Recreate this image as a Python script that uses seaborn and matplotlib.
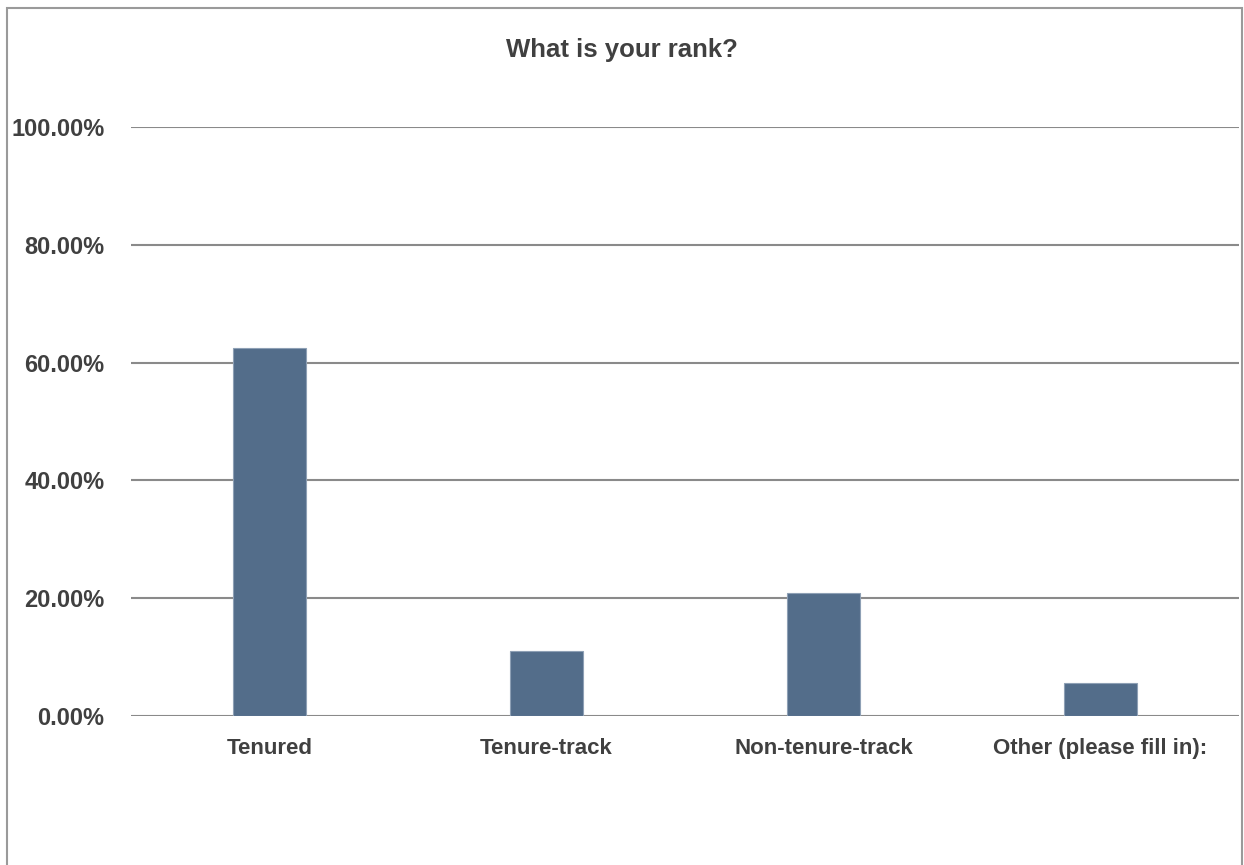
import matplotlib
matplotlib.use("Agg")
import matplotlib.pyplot as plt
import matplotlib.ticker as mtick
from matplotlib.patches import Rectangle
import seaborn as sns
import pandas as pd

# --- Data ---
categories = ["Tenured", "Tenure-track", "Non-tenure-track", "Other (please fill in):"]
shares = [62.50, 11.11, 20.83, 5.56]
y_ticks = [0, 20, 40, 60, 80, 100]

TITLE = "What is your rank?"
BAR_COLOR = "#536d8a"
TEXT_COLOR = "#404040"
GRID_COLOR = "#8a8a8a"

W, H, DPI = 1244, 865, 100

sns.set_theme(style="white")
plt.rcParams['font.family'] = ['Liberation Sans Narrow', 'Liberation Sans', 'DejaVu Sans']

df = pd.DataFrame({"rank": categories, "share": shares})

fig = plt.figure(figsize=(W / DPI, H / DPI), dpi=DPI)
fig.patch.set_facecolor("white")

# axes placed to match the original layout (pixels)
left, right, top, bottom = 131, 1239, 127, 716
ax = fig.add_axes([left / W, 1 - bottom / H, (right - left) / W, (bottom - top) / H])

sns.barplot(data=df, x="rank", y="share", color=BAR_COLOR, width=0.267,
            saturation=1, ax=ax, zorder=3, edgecolor="#8ea0b5", linewidth=0.8)

ax.set_ylim(0, 100)
ax.set_xlim(-0.5, len(categories) - 0.5)
ax.set_yticks(y_ticks)
ax.yaxis.set_major_formatter(mtick.FuncFormatter(lambda v, _: f"{v:.2f}%"))
ax.grid(axis="y", color=GRID_COLOR, linewidth=1.5, zorder=0)
ax.grid(axis="x", visible=False)
for s in ax.spines.values():
    s.set_visible(False)
ax.tick_params(axis="both", length=0, colors=TEXT_COLOR)
ax.tick_params(axis="y", pad=19, labelsize=17)
ax.tick_params(axis="x", pad=16, labelsize=16)
for lbl in ax.get_xticklabels() + ax.get_yticklabels():
    lbl.set_fontweight("bold")
ax.set_xlabel("")
ax.set_ylabel("")

fig.text(0.5, 1 - 50 / H, TITLE, ha="center", va="center", fontsize=18.5,
         fontweight="bold", color=TEXT_COLOR)

# outer chart frame
fig.patches.append(Rectangle((7 / W, -0.05), (1242 - 7) / W, 1.05 - 8 / H,
                             transform=fig.transFigure, fill=False,
                             edgecolor="#9a9a9a", linewidth=1.5))

fig.savefig("out.png", dpi=DPI)
